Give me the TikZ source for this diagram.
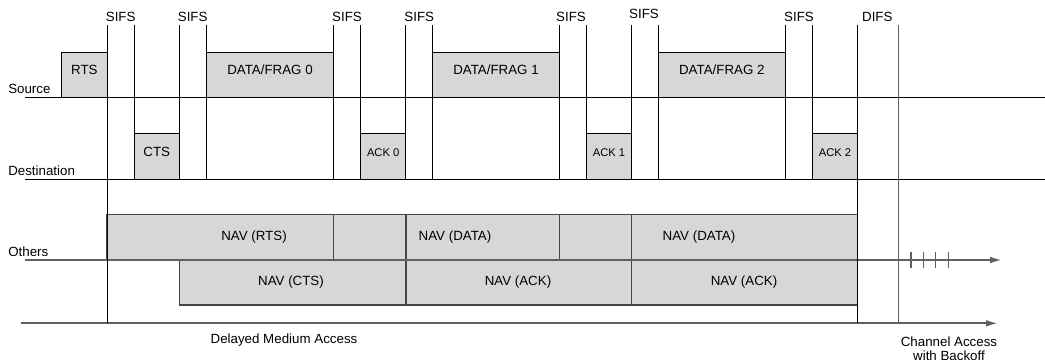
\documentclass[tikz,border=0pt]{standalone}
\usepackage{fontspec}
\setmainfont{Liberation Sans}
\usetikzlibrary{fit,arrows.meta}
\definecolor{pktfill}{RGB}{215,215,215}
\definecolor{navline}{RGB}{70,70,70}
\definecolor{axisline}{RGB}{95,95,95}
\tikzset{
  lbl/.style={font=\fontsize{10}{12}\selectfont, inner sep=0pt},
  pkt/.style={draw=black, fill=pktfill, line width=0.75pt, inner sep=0pt, font=\fontsize{10}{12}\selectfont},
  ackbox/.style={pkt, font=\fontsize{8.4}{10}\selectfont},
  nav/.style={draw=navline, fill=pktfill, line width=1pt, inner sep=0pt},
  tline/.style={draw=black, line width=0.75pt},
  gline/.style={draw=axisline, line width=1.1pt},
  axis/.style={draw=axisline, line width=1.4pt, -{Latex[length=9pt,width=5pt]}},
}
\begin{document}
\begin{tikzpicture}[x=0.75pt,y=-0.75pt]
\useasboundingbox (0,0) rectangle (1045,362);

% NAV boxes
\node[nav, fit={(107,214.3)(333.3,260)}] (navrts) {};
\node[nav, fit={(333.3,214.3)(406,260)}] (navgap1) {};
\node[nav, fit={(406,214.3)(559.3,260)}] (navdata1) {};
\node[nav, fit={(559.3,214.3)(631.7,260)}] (navgap2) {};
\node[nav, fit={(631.7,214.3)(857.3,260)}] (navdata2) {};
\node[nav, fit={(179.3,260)(406,305)}] (navcts) {};
\node[nav, fit={(406,260)(631.7,305)}] (navack1) {};
\node[nav, fit={(631.7,260)(857.3,305)}] (navack2) {};
\node[lbl] (tnavrts) at (254,237) {NAV (RTS)};
\node[lbl] (tnavdata1) at (455,237) {NAV (DATA)};
\node[lbl] (tnavdata2) at (699,237) {NAV (DATA)};
\node[lbl] (tnavcts) at (291,282) {NAV (CTS)};
\node[lbl] (tnavack1) at (518,282) {NAV (ACK)};
\node[lbl] (tnavack2) at (744,282) {NAV (ACK)};

% Others / time axes
\coordinate (othS) at (25,260);
\coordinate (othE) at (1002,260);
\draw[axis] (othS) -- (othE);
\coordinate (botS) at (21,323.3);
\coordinate (botE) at (998,323.3);
\draw[axis] (botS) -- (botE);
\foreach \x in {911,923.3,935.7,948.3}
  \draw[gline] (\x,251.7) -- (\x,268.3);

% packets
\node[pkt, fit={(61.7,52.3)(107,97)}] (rts) {RTS};
\node[pkt, fit={(134.3,133.3)(179.3,179)}] (cts) {CTS};
\node[pkt, fit={(206.7,52.3)(333.3,97)}] (d0) {DATA/FRAG 0};
\node[ackbox, fit={(360.7,133.3)(405.7,179)}] (a0) {ACK 0};
\node[pkt, fit={(432.7,52.3)(559.3,97)}] (d1) {DATA/FRAG 1};
\node[ackbox, fit={(586.7,133.3)(631.3,179)}] (a1) {ACK 1};
\node[pkt, fit={(658.3,52.3)(785.3,97)}] (d2) {DATA/FRAG 2};
\node[ackbox, fit={(812.7,133.3)(857.3,179)}] (a2) {ACK 2};

% Source / Destination lines
\draw[tline] (25,97) -- (1045,97);
\draw[tline] (25,179) -- (1045,179);

% vertical timing lines
\foreach \x in {134.3,179.3,206.7,333.3,360.7,405.7,432.7,559.3,586.7,631.3,658.3,785.3,812.7}
  \draw[tline] (\x,25) -- (\x,179);
\draw[tline] (107,25) -- (107,323.3);
\draw[tline] (857.3,25) -- (857.3,323.3);
\draw[gline] (898.3,25) -- (898.3,323.3);

% labels
\node[lbl, anchor=base west] (lsrc) at (8,93) {Source};
\node[lbl, anchor=base west] (ldst) at (8,175) {Destination};
\node[lbl, anchor=base west] (loth) at (8,256) {Others};
\node[lbl] (s1) at (120.7,17) {SIFS};
\node[lbl] (s2) at (192.7,17) {SIFS};
\node[lbl] (s3) at (347,17) {SIFS};
\node[lbl] (s4) at (419.3,17) {SIFS};
\node[lbl] (s5) at (571,17) {SIFS};
\node[lbl] (s6) at (644,14) {SIFS};
\node[lbl] (s7) at (799,17) {SIFS};
\node[lbl] (difs) at (877.3,17) {DIFS};
\node[lbl] (dma) at (284,340) {Delayed Medium Access};
\node[lbl, anchor=base] (cab1) at (949,346) {Channel Access};
\node[lbl, anchor=base] (cab2) at (949,360) {with Backoff};
\end{tikzpicture}
\end{document}
